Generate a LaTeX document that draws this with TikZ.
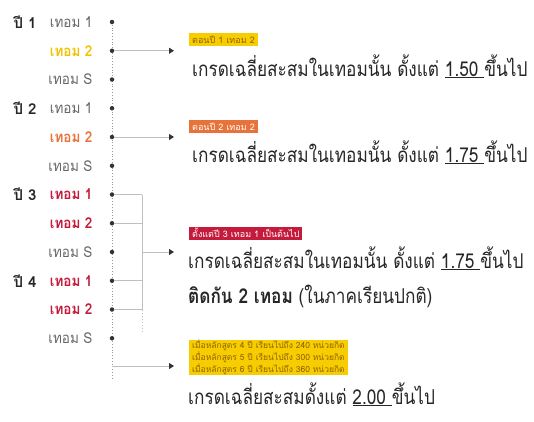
\documentclass[tikz,border=0pt]{standalone}
\usepackage{fontspec}
\setmainfont[Script=Thai]{Loma}
\newfontfamily\narrow[Script=Thai,FakeStretch=0.84]{Loma}
\newfontfamily\slim[Script=Thai,FakeStretch=0.9]{Loma}
\usetikzlibrary{arrows.meta}
\definecolor{ylw}{HTML}{F2C200}
\definecolor{ylwbox}{HTML}{F7CC00}
\definecolor{ylwtxt}{HTML}{8C6400}
\definecolor{org}{HTML}{E8733A}
\definecolor{crim}{HTML}{C41A3C}
\begin{document}
\begin{tikzpicture}[x=1pt,y=-1pt,
    yr/.style={anchor=west,font=\fontsize{15}{15}\selectfont\bfseries,text=black!85},
    term/.style={anchor=east,font=\slim\fontsize{15}{15}\selectfont,text=black!60},
    hot/.style={term,font=\slim\fontsize{15}{15}\selectfont\bfseries},
    dot/.style={circle,fill=black!80,inner sep=0pt,minimum size=4.5pt},
    spine/.style={draw=black!40,line width=0.8pt,dotted},
    link/.style={draw=black!25,line width=1pt},
    arr/.style={link,-{Triangle[length=5pt,width=6pt,color=black!80]}},
    tag/.style={anchor=west,inner xsep=3pt,inner ysep=0pt,minimum height=13pt,font=\fontsize{9}{10}\selectfont},
    rule/.style={anchor=base west,inner sep=0pt,font=\narrow\fontsize{20.5}{21}\selectfont,text=black!85}]
  \useasboundingbox (0,0) rectangle (534,421);
  \coordinate (top) at (112,22);
  \coordinate (bot) at (112,378);
  \draw[spine] (top) -- (bot);

  \node[yr] (yr1) at (10,22) {ปี 1};
  \node[yr] (yr2) at (10,108.25) {ปี 2};
  \node[yr] (yr3) at (10,194.5) {ปี 3};
  \node[yr] (yr4) at (10,280.75) {ปี 4};

  \node[term] (t1) at (96,22) {เทอม 1};
  \node[hot,text=ylw] (t2) at (96,50.75) {เทอม 2};
  \node[term] (t3) at (96,79.5) {เทอม S};
  \node[term] (t4) at (96,108.25) {เทอม 1};
  \node[hot,text=org] (t5) at (96,137) {เทอม 2};
  \node[term] (t6) at (96,165.75) {เทอม S};
  \node[hot,text=crim] (t7) at (96,194.5) {เทอม 1};
  \node[hot,text=crim] (t8) at (96,223.25) {เทอม 2};
  \node[term] (t9) at (96,252) {เทอม S};
  \node[hot,text=crim] (t10) at (96,280.75) {เทอม 1};
  \node[hot,text=crim] (t11) at (96,309.5) {เทอม 2};
  \node[term] (t12) at (96,338.25) {เทอม S};

  \node[dot] (d1) at (112,22) {};
  \node[dot] (d2) at (112,50.75) {};
  \node[dot] (d3) at (112,79.5) {};
  \node[dot] (d4) at (112,108.25) {};
  \node[dot] (d5) at (112,137) {};
  \node[dot] (d6) at (112,165.75) {};
  \node[dot] (d7) at (112,194.5) {};
  \node[dot] (d8) at (112,223.25) {};
  \node[dot] (d9) at (112,252) {};
  \node[dot] (d10) at (112,280.75) {};
  \node[dot] (d11) at (112,309.5) {};
  \node[dot] (d12) at (112,338.25) {};

  \coordinate (a1) at (174,50.75);
  \coordinate (a2) at (174,137);
  \coordinate (b7) at (142,194.5);
  \coordinate (b8) at (142,223.25);
  \coordinate (bm) at (142,252);
  \coordinate (b10) at (142,280.75);
  \coordinate (b11) at (142,309.5);
  \coordinate (bend) at (142,333);
  \coordinate (a3) at (174,252);
  \coordinate (s4) at (112,366);
  \coordinate (a4) at (174,366);

  \draw[arr] (d2) -- (a1);
  \draw[arr] (d5) -- (a2);
  \draw[link] (d7) -- (b7);
  \draw[link] (d8) -- (b8);
  \draw[link] (d10) -- (b10);
  \draw[link] (d11) -- (b11);
  \draw[link] (b7) -- (b11);
  \draw[link,dotted] (b11) -- (bend);
  \draw[arr] (bm) -- (a3);
  \draw[arr] (s4) -- (a4);

  \node[tag,fill=ylwbox,text=ylwtxt] (tag1) at (189,39.5) {ตอนปี 1 เทอม 2};
  \node[rule] (r1) at (192,76) {เกรดเฉลี่ยสะสมในเทอมนั้น ดั้งแต่ \underline{1.50\ }ขึ้นไป};
  \node[tag,fill=org,text=white] (tag2) at (189,126.5) {ตอนปี 2 เทอม 2};
  \node[rule] (r2) at (192,162) {เกรดเฉลี่ยสะสมในเทอมนั้น ดั้งแต่ \underline{1.75\ }ขึ้นไป};
  \node[tag,fill=crim,text=white] (tag3) at (189,233) {ตั้งแต่ปี 3 เทอม 1 เป็นต้นไป};
  \node[rule] (r3) at (188,268) {เกรดเฉลี่ยสะสมในเทอมนั้น ดั้งแต่ \underline{1.75\ }ขึ้นไป};
  \node[rule] (r4) at (188,303) {\textbf{ติดกัน 2 เทอม} (ในภาคเรียนปกติ)};
  \node[tag,fill=ylwbox,text=ylwtxt,align=left,minimum height=35pt,
    font=\fontsize{8.5}{10}\selectfont] (tag4) at (189,357.5)
    {เมื่อหลักสูตร 4 ปี เรียนไปถึง 240 หน่วยกิต\\เมื่อหลักสูตร 5 ปี เรียนไปถึง 300 หน่วยกิต\\เมื่อหลักสูตร 6 ปี เรียนไปถึง 360 หน่วยกิต};
  \node[rule] (r5) at (188,404) {เกรดเฉลี่ยสะสมดั้งแต่ \underline{2.00\ }ขึ้นไป};
\end{tikzpicture}
\end{document}
